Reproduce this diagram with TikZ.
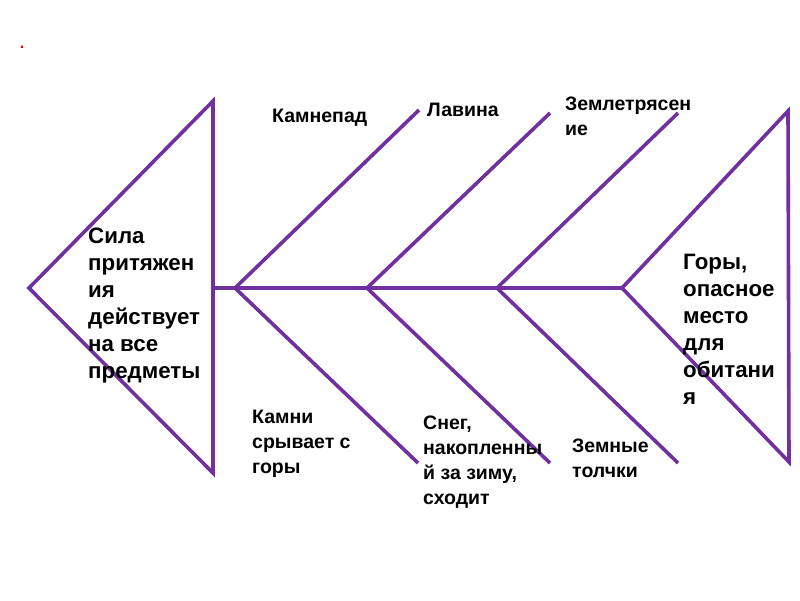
\documentclass[tikz,border=0pt]{standalone}
\usepackage{fontspec}
\setmainfont{Liberation Sans}
\usepackage{tikz}
\usetikzlibrary{positioning}
\definecolor{fishpurple}{RGB}{112,48,160}

\begin{document}
\begin{tikzpicture}[x=1pt, y=-1pt,
  b/.style={draw=fishpurple, line width=3.6pt, line join=miter},
  t/.style={anchor=north west, align=left, inner sep=0pt, font=\bfseries\fontsize{19.5}{25}\selectfont},
  big/.style={t, font=\bfseries\fontsize{22.3}{27}\selectfont}]
  \useasboundingbox (0,0) rectangle (800,600);
  % head and tail
  \coordinate (h) at (29,288);   \coordinate (ht) at (213,101);  \coordinate (hb) at (213,473);
  \coordinate (s0) at (213,288);
  \coordinate (j1) at (235,288); \coordinate (j2) at (367,288);
  \coordinate (j3) at (497,288); \coordinate (j4) at (622,288);
  \coordinate (u1) at (419,110); \coordinate (d1) at (418,463);
  \coordinate (u2) at (550,113); \coordinate (d2) at (550,463);
  \coordinate (u3) at (678,113); \coordinate (d3) at (678,463);
  \coordinate (tt) at (788,111); \coordinate (tb) at (789,462);
  \draw[b] (h) -- (ht) -- (hb) -- cycle;
  \draw[b] (s0) -- (j4);
  \draw[b] (u1) -- (j1) -- (d1);
  \draw[b] (u2) -- (j2) -- (d2);
  \draw[b] (u3) -- (j3) -- (d3);
  \draw[b] (tt) -- (j4) -- (tb) -- cycle;
  % labels
  \node[text=red!85!black, font=\bfseries\fontsize{16}{16}\selectfont, inner sep=0pt] (dot) at (22,47) {.};
  \node[big] (effect) at (88,228) {Сила\\притяжен\\ия\\действует\\на все\\предметы};
  \node[big] (cause) at (683,254) {Горы,\\опасное\\место\\для\\обитани\\я};
  \node[t] (c1) at (272,109) {Камнепад};
  \node[t] (c2) at (427,103) {Лавина};
  \node[t] (c3) at (565,97) {Землетрясен\\ие};
  \node[t] (r1) at (252,410) {Камни\\срывает с\\горы};
  \node[t] (r2) at (423,416) {Снег,\\накопленны\\й за зиму,\\сходит};
  \node[t] (r3) at (572,439) {Земные\\толчки};
\end{tikzpicture}
\end{document}
